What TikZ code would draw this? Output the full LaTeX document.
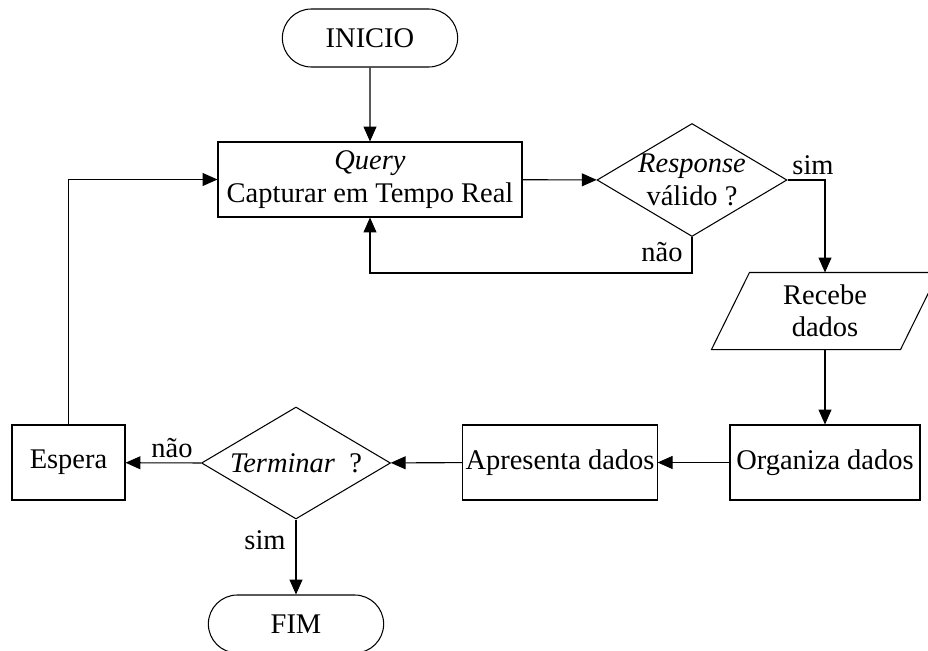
\documentclass[tikz,border=0pt]{standalone}
\usepackage{fontspec}
\setmainfont{Liberation Serif}
\usetikzlibrary{shapes.geometric, shapes.misc, arrows.meta, positioning, calc}

\begin{document}
\begin{tikzpicture}[every node/.style={font=\fontsize{16.2}{18.4}\selectfont}, line width=0.6pt,
	terminal/.style={draw, rounded rectangle, minimum width=3.74cm, minimum height=1.16cm},
	proc/.style={draw, rectangle, inner sep=1.5pt, minimum height=1.5cm, align=center},
	decision/.style={draw, diamond, inner sep=0pt},
	flow/.style={-{Triangle[length=8.5pt, width=7.4pt]}}]
		\useasboundingbox (0,0) rectangle (18.56,-13.02);
		% Start and query
		\node[terminal] (inicio) at (7.4,-0.76) {INICIO};
		\node[proc, minimum width=6.08cm] (query) at (7.4,-3.59) {\textit{Query}\\Capturar em Tempo Real};
		\draw[flow] (inicio) -- (query);
		% Response check
		\node[decision, minimum width=3.8cm, minimum height=2.26cm, label={[align=center]center:{\textit{Response}\\válido ?}}] (resp) at (13.84,-3.6) {};
		\draw[flow] (query) -- (resp);
		\coordinate (back) at (13.84,-5.46);
		\draw[flow] (resp.south) -- (back) -| (query.south);
		\node at (13.24,-5.04) {não};
		\node at (16.26,-3.3) {sim};
		% Receive data (parallelogram)
		\node[minimum width=3.76cm, minimum height=1.52cm, align=center] (recv) at (16.5,-6.22) {Recebe\\dados};
		\draw ([xshift=-0.38cm]recv.south west) -- ([xshift=-0.38cm]recv.south east) -- ([xshift=0.38cm]recv.north east) -- ([xshift=0.38cm]recv.north west) -- cycle;
		\draw[flow] (resp.east) -| (recv.north);
		% Organize and present
		\node[proc, minimum width=3.8cm] (org) at (16.5,-9.25) {Organiza dados};
		\node[proc, minimum width=3.76cm] (apr) at (11.2,-9.25) {Apresenta dados};
		\draw[flow] (recv.south) -- (org.north);
		\draw[flow] (org) -- (apr);
		% End check
		\node[decision, minimum width=3.78cm, minimum height=2.24cm, label={center:{\textit{Terminar} \ ?}}] (fimq) at (5.92,-9.26) {};
		\draw[flow] (apr) -- (fimq);
		\node[proc, minimum width=2.26cm] (espera) at (1.37,-9.25) {Espera};
		\draw[flow] (fimq.west) -- (espera);
		\node at (3.44,-8.96) {não};
		\draw[flow] (espera.north) |- (query.west);
		\node[terminal] (fim) at (5.92,-12.48) {FIM};
		\draw[flow] (fimq.south) -- (fim.north);
		\node at (5.3,-10.8) {sim};
	\end{tikzpicture}
\end{document}
